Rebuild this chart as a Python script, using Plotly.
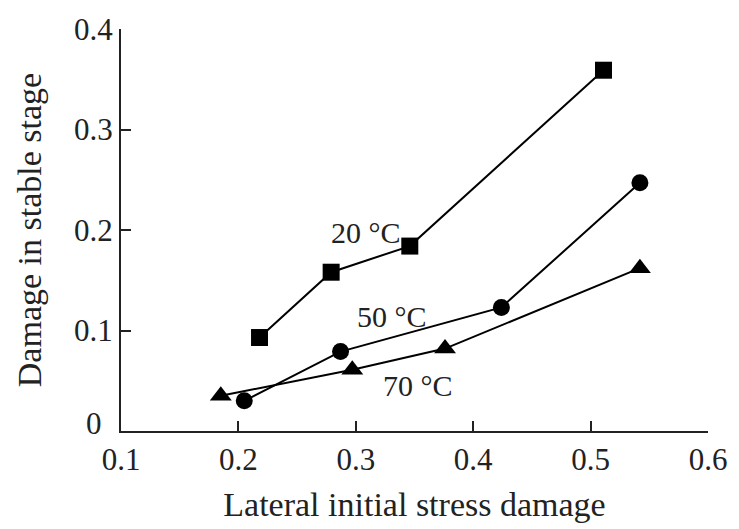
import plotly.graph_objects as go

# Data
x_20 = [0.218, 0.279, 0.346, 0.511]
y_20 = [0.093, 0.158, 0.184, 0.359]
x_50 = [0.205, 0.287, 0.424, 0.542]
y_50 = [0.030, 0.079, 0.123, 0.247]
x_70 = [0.185, 0.297, 0.376, 0.542]
y_70 = [0.035, 0.061, 0.082, 0.162]

x_ticks = [0.1, 0.2, 0.3, 0.4, 0.5, 0.6]
x_ticktext = ["0.1", "0.2", "0.3", "0.4", "0.5", "0.6"]
y_ticks = [0, 0.1, 0.2, 0.3, 0.4]
y_ticktext = ["", "0.1", "0.2", "0.3", "0.4"]
y_zero_label = "0"

labels = ["20 °C", "50 °C", "70 °C"]
label_pos = [(0.309, 0.198), (0.331, 0.114), (0.353, 0.045)]

FONT = "Liberation Serif, Times New Roman, serif"

fig = go.Figure()
series = [(x_20, y_20, "square", 17), (x_50, y_50, "circle", 17), (x_70, y_70, "triangle-up", 19)]
for (xs, ys, sym, sz), name in zip(series, labels):
    fig.add_trace(go.Scatter(
        x=xs, y=ys, mode="lines+markers", name=name,
        line=dict(color="black", width=2),
        marker=dict(symbol=sym, size=sz, color="black"),
        showlegend=False,
    ))

for (lx, ly), txt in zip(label_pos, labels):
    fig.add_annotation(x=lx, y=ly, text=txt, showarrow=False,
                       font=dict(family=FONT, size=30, color="#222"))

# "0" label of the y axis sits slightly above its tick in the reference
fig.add_annotation(xref="paper", x=0, y=0, yref="y", text=y_zero_label,
                   showarrow=False, xanchor="right", xshift=-17, yshift=8,
                   font=dict(family=FONT, size=31, color="#222"))

axis_common = dict(
    showline=True, linecolor="#222", linewidth=2,
    ticks="inside", ticklen=10, tickwidth=2, tickcolor="#222",
    showgrid=False, zeroline=False, mirror=False,
    tickfont=dict(family=FONT, size=31, color="#222"),
)

fig.update_xaxes(range=[0.1, 0.6], tickvals=x_ticks, ticktext=x_ticktext,
                 title=dict(text="Lateral initial stress damage",
                            font=dict(family=FONT, size=34, color="#222"), standoff=16),
                 **axis_common)
fig.update_yaxes(range=[0, 0.4], tickvals=y_ticks, ticktext=y_ticktext,
                 title=dict(text="Damage in stable stage",
                            font=dict(family=FONT, size=34, color="#222"), standoff=22),
                 **axis_common)

fig.update_layout(
    width=739, height=529,
    margin=dict(l=121, r=20, t=29, b=97),
    plot_bgcolor="white", paper_bgcolor="white",
)

fig.write_html("out.html")
